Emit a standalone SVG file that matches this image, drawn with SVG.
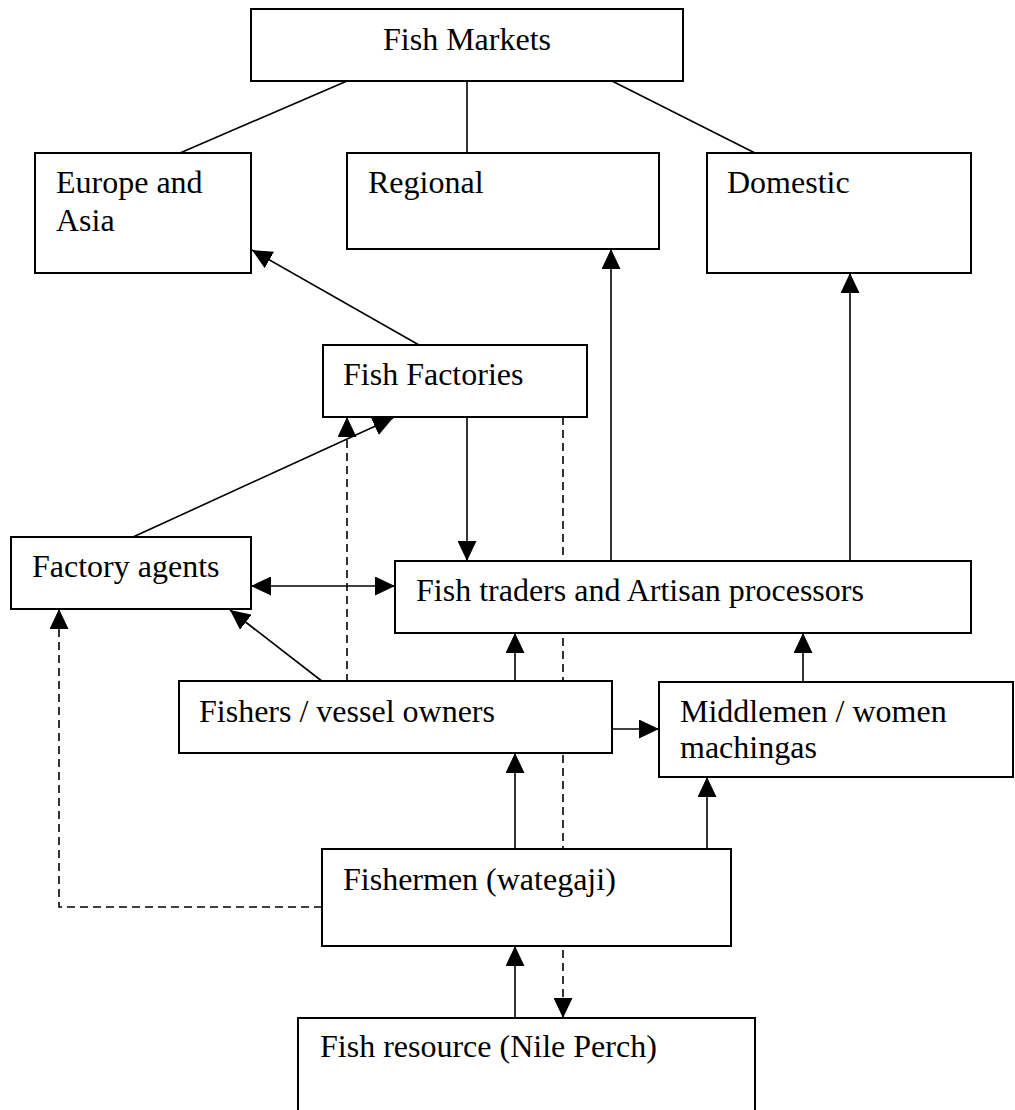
<svg xmlns="http://www.w3.org/2000/svg" width="1015" height="1110" viewBox="0 0 1015 1110">
<style>
.box{fill:#fff;stroke:#000;stroke-width:2}
.t{font-family:"Liberation Serif","Times New Roman",serif;font-size:32px;fill:#000}
.c{fill:none;stroke:#000;stroke-width:1.6}
.d{fill:none;stroke:#000;stroke-width:1.6;stroke-dasharray:8,5}
</style>
<defs>
<marker id="ah" markerUnits="userSpaceOnUse" markerWidth="20" markerHeight="19" refX="20" refY="9.5" orient="auto" viewBox="0 0 20 19">
<path d="M0,0 L20,9.5 L0,19 Z" fill="#000"/>
</marker>
<marker id="ahs" markerUnits="userSpaceOnUse" markerWidth="20" markerHeight="19" refX="20" refY="9.5" orient="auto-start-reverse" viewBox="0 0 20 19">
<path d="M0,0 L20,9.5 L0,19 Z" fill="#000"/>
</marker>
</defs>
<rect width="1015" height="1110" fill="#fff"/>
<g id="connectors">
<line class="c" x1="347" y1="81" x2="180" y2="153"/>
<line class="c" x1="467" y1="81" x2="467" y2="153"/>
<line class="c" x1="612" y1="81" x2="755" y2="153"/>
<line class="c" x1="419" y1="345" x2="252" y2="250" marker-end="url(#ah)"/>
<line class="c" x1="611" y1="561" x2="611" y2="249" marker-end="url(#ah)"/>
<line class="c" x1="850" y1="561" x2="850" y2="273" marker-end="url(#ah)"/>
<line class="c" x1="467" y1="417" x2="467" y2="561" marker-end="url(#ah)"/>
<line class="c" x1="133" y1="537" x2="393" y2="418" marker-end="url(#ah)"/>
<line class="c" x1="251" y1="586" x2="395" y2="586" marker-start="url(#ahs)" marker-end="url(#ah)"/>
<line class="c" x1="323" y1="682" x2="230" y2="610" marker-end="url(#ah)"/>
<line class="d" x1="347" y1="682" x2="347" y2="417" marker-end="url(#ah)"/>
<line class="d" x1="563" y1="417" x2="563" y2="1018" marker-end="url(#ah)"/>
<line class="c" x1="515" y1="681" x2="515" y2="633" marker-end="url(#ah)"/>
<line class="c" x1="803" y1="682" x2="803" y2="633" marker-end="url(#ah)"/>
<line class="c" x1="612" y1="729" x2="659" y2="729" marker-end="url(#ah)"/>
<line class="c" x1="515" y1="849" x2="515" y2="753" marker-end="url(#ah)"/>
<line class="c" x1="707" y1="849" x2="707" y2="777" marker-end="url(#ah)"/>
<polyline class="d" points="322,907 59,907 59,609" marker-end="url(#ah)"/>
<line class="c" x1="515" y1="1018" x2="515" y2="946" marker-end="url(#ah)"/>
</g>
<g id="fish-markets"><rect class="box" x="251" y="9" width="432" height="72"/><text class="t" x="383" y="50">Fish Markets</text></g>
<g id="europe-asia"><rect class="box" x="35" y="153" width="216" height="120"/><text class="t" x="56" y="193">Europe and</text><text class="t" x="56" y="231">Asia</text></g>
<g id="regional"><rect class="box" x="347" y="153" width="312" height="96"/><text class="t" x="368" y="193">Regional</text></g>
<g id="domestic"><rect class="box" x="707" y="153" width="264" height="120"/><text class="t" x="727" y="193">Domestic</text></g>
<g id="fish-factories"><rect class="box" x="323" y="345" width="264" height="72"/><text class="t" x="343" y="385">Fish Factories</text></g>
<g id="factory-agents"><rect class="box" x="11" y="537" width="240" height="72"/><text class="t" x="32" y="577">Factory agents</text></g>
<g id="fish-traders"><rect class="box" x="395" y="561" width="576" height="72"/><text class="t" x="416" y="601">Fish traders and Artisan processors</text></g>
<g id="fishers"><rect class="box" x="179" y="681" width="433" height="72"/><text class="t" x="199" y="722">Fishers / vessel owners</text></g>
<g id="middlemen"><rect class="box" x="659" y="682" width="354" height="95"/><text class="t" x="680" y="722">Middlemen / women</text><text class="t" x="680" y="758">machingas</text></g>
<g id="fishermen"><rect class="box" x="322" y="849" width="409" height="97"/><text class="t" x="343" y="890">Fishermen (wategaji)</text></g>
<g id="fish-resource"><rect class="box" x="298" y="1018" width="457" height="100"/><text class="t" x="320" y="1057">Fish resource (Nile Perch)</text></g>
</svg>
